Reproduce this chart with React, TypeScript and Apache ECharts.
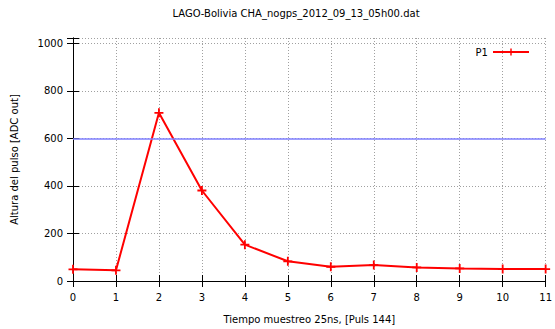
import React, { useEffect, useRef } from "react";
import * as echarts from "echarts";

// Sample index (25 ns steps) and pulse height in ADC counts
const samples = [0, 1, 2, 3, 4, 5, 6, 7, 8, 9, 10, 11];
const pulseP1 = [49, 45, 708, 381, 153, 83, 60, 67, 57, 53, 50, 50];
const threshold = 600;
const adcMax = 1023;
const yTickStep = 200;

const titleText = "LAGO-Bolivia CHA_nogps_2012_09_13_05h00.dat";
const xTitle = "Tiempo muestreo 25ns, [Puls 144]";
const yTitle = "Altura del pulso [ADC out]";
const seriesName = "P1";

const FONT = "DejaVu Sans";
const plusSymbol = "path://M4,0H6V4H10V6H6V10H4V6H0V4H4Z";

export default function App() {
  const ref = useRef<HTMLDivElement>(null);

  useEffect(() => {
    document.body.style.margin = "0";
    if (!ref.current) return;
    const chart = echarts.init(ref.current, null, { renderer: "svg" });

    const gridLine = {
      show: true,
      lineStyle: { color: "#a0a0a0", width: 1, type: [1, 2] as number[] },
    };
    const axisLine = { show: true, lineStyle: { color: "#000", width: 1 } };
    const tickIn = { show: true, inside: true, length: 6, lineStyle: { color: "#000" } };
    const yLabelFmt = (v: number) => (v % yTickStep === 0 ? String(v) : "");

    chart.setOption({
      animation: false,
      backgroundColor: "#fff",
      title: {
        text: titleText,
        left: 291,
        top: 3,
        textAlign: "center",
        textStyle: { fontFamily: FONT, fontSize: 10, fontWeight: "normal", color: "#000" },
      },
      legend: {
        data: [seriesName],
        right: 20,
        top: 42,
        align: "right",
        itemWidth: 36,
        itemHeight: 9,
        itemGap: 6,
        textStyle: { fontFamily: FONT, fontSize: 10, color: "#000" },
      },
      grid: { left: 73, right: 7, top: 38, bottom: 45 },
      xAxis: [
        {
          type: "value",
          min: 0,
          max: 11,
          interval: 1,
          name: xTitle,
          nameLocation: "middle",
          nameGap: 33,
          nameTextStyle: { fontFamily: FONT, fontSize: 10, color: "#000" },
          axisLine,
          axisTick: tickIn,
          splitLine: gridLine,
          axisLabel: { fontFamily: FONT, fontSize: 10, color: "#000", margin: 11 },
        },
        {
          type: "value",
          position: "top",
          min: 0,
          max: 11,
          interval: 1,
          axisLine,
          axisTick: tickIn,
          splitLine: { show: false },
          axisLabel: { show: false },
        },
      ],
      yAxis: [
        {
          type: "value",
          min: 0,
          max: adcMax,
          interval: yTickStep,
          name: yTitle,
          nameLocation: "middle",
          nameGap: 54,
          nameTextStyle: { fontFamily: FONT, fontSize: 10, color: "#000" },
          axisLine,
          axisTick: tickIn,
          splitLine: gridLine,
          axisLabel: {
            fontFamily: FONT,
            fontSize: 10,
            color: "#000",
            margin: 10,
            formatter: yLabelFmt,
          },
        },
        {
          type: "value",
          position: "right",
          min: 0,
          max: adcMax,
          interval: yTickStep,
          axisLine,
          axisTick: tickIn,
          splitLine: { show: false },
          axisLabel: { show: false },
        },
      ],
      series: [
        {
          name: seriesName,
          type: "line",
          data: samples.map((s, i) => [s, pulseP1[i]]),
          lineStyle: { color: "#ff0000", width: 2 },
          itemStyle: { color: "#ff0000" },
          symbol: plusSymbol,
          symbolSize: 9,
          showAllSymbol: true,
          z: 3,
          markLine: {
            silent: true,
            symbol: "none",
            label: { show: false },
            lineStyle: { color: "#7f7fff", width: 1.5, type: "solid" },
            data: [{ yAxis: threshold }],
          },
        },
      ],
    });

    return () => chart.dispose();
  }, []);

  return <div ref={ref} style={{ width: 555, height: 329 }} />;
}
